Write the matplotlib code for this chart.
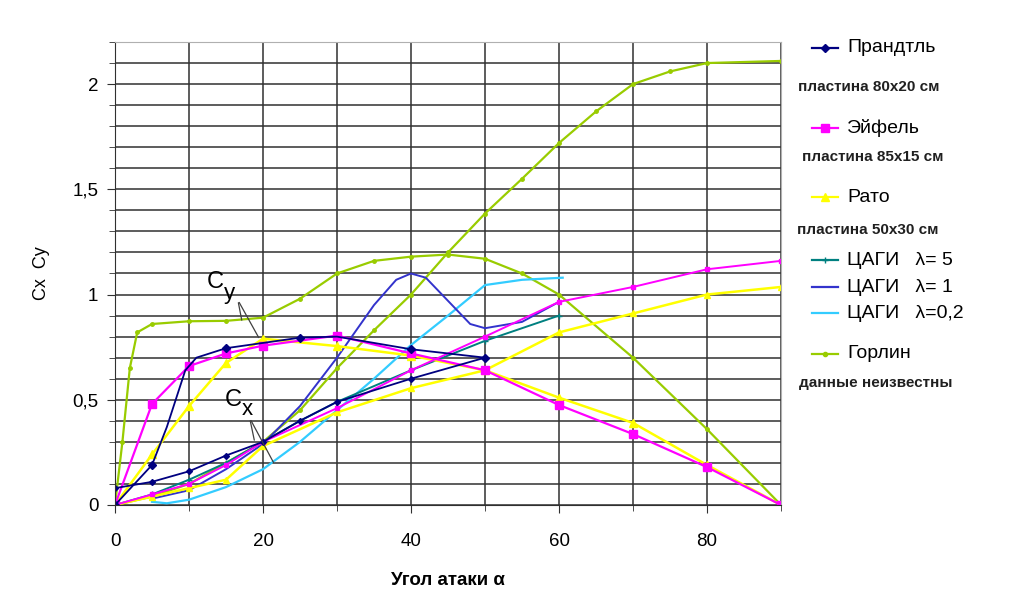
import matplotlib
matplotlib.use("Agg")
from matplotlib import pyplot as plt
from matplotlib.lines import Line2D
from matplotlib.ticker import MultipleLocator, FuncFormatter

plt.rcParams['font.family'] = ['Liberation Sans', 'DejaVu Sans']

# Прандтль
prandtl_cy_x = [0, 5, 7, 9.5, 11, 15, 20, 25, 30, 40, 50]
prandtl_cy_y = [0, 0.19, 0.37, 0.64, 0.70, 0.745, 0.77, 0.795, 0.80, 0.74, 0.70]
prandtl_cx_x = [0, 5, 10, 15, 20, 25, 30, 40, 50]
prandtl_cx_y = [0.08, 0.11, 0.16, 0.235, 0.30, 0.40, 0.49, 0.60, 0.70]

# Эйфель
eiffel_x = [0, 5, 10, 15, 20, 30, 40, 50, 60, 70, 80, 90]
eiffel_cy = [0, 0.48, 0.66, 0.72, 0.757, 0.805, 0.72, 0.64, 0.475, 0.337, 0.18, 0]
eiffel_cx = [0, 0.05, 0.10, 0.19, 0.30, 0.46, 0.64, 0.80, 0.965, 1.036, 1.12, 1.16]

# Рато
rato_x = [0, 5, 10, 15, 20, 30, 40, 50, 60, 70, 80, 90]
rato_cy = [0, 0.24, 0.47, 0.675, 0.79, 0.755, 0.71, 0.64, 0.51, 0.39, 0.19, 0]
rato_cx = [0, 0.04, 0.08, 0.12, 0.28, 0.44, 0.555, 0.64, 0.82, 0.91, 1.0, 1.036]

# ЦАГИ
cagi5_x = [0, 5, 10, 15, 20, 25, 30, 40, 50, 60]
cagi5_y = [0.0, 0.05, 0.12, 0.20, 0.30, 0.40, 0.49, 0.64, 0.78, 0.90]
cagi1_x = [5, 10, 15, 20, 25, 30, 35, 38, 40, 42, 45, 48, 50, 55, 60]
cagi1_y = [0.03, 0.07, 0.17, 0.29, 0.47, 0.70, 0.95, 1.07, 1.10, 1.08, 0.97, 0.86, 0.84, 0.87, 0.965]
cagi02_x = [5, 7, 10, 15, 20, 25, 30, 35, 40, 45, 50, 55, 60.5]
cagi02_y = [0.015, 0.008, 0.025, 0.085, 0.17, 0.30, 0.45, 0.60, 0.76, 0.90, 1.045, 1.07, 1.08]

# Горлин
gorlin_cy_x = [0, 1, 2, 3, 5, 10, 15, 20, 25, 30, 35, 40, 45, 50, 55, 60, 70, 80, 90]
gorlin_cy_y = [0, 0.30, 0.65, 0.82, 0.86, 0.873, 0.875, 0.89, 0.98, 1.10, 1.16, 1.18, 1.19, 1.17,
               1.10, 1.0, 0.70, 0.36, 0]
gorlin_cx_x = [0, 5, 10, 15, 20, 25, 30, 35, 40, 45, 50, 55, 60, 65, 70, 75, 80, 90]
gorlin_cx_y = [0, 0.04, 0.10, 0.20, 0.30, 0.45, 0.65, 0.83, 1.0, 1.2, 1.385, 1.55, 1.72, 1.87,
               2.0, 2.06, 2.10, 2.11]

c_prandtl = '#000080'
c_eiffel = '#FF00FF'
c_rato = '#FFFF00'
c_cagi5 = '#008080'
c_cagi1 = '#3333CC'
c_cagi02 = '#33CCFF'
c_gorlin = '#99CC00'

fig = plt.figure(figsize=(10.16, 6.15), dpi=100)
ax = fig.add_axes([0.1132, 0.1789, 0.6555, 0.7528])

ax.plot(gorlin_cy_x, gorlin_cy_y, color=c_gorlin, lw=1.6, marker='o', ms=2.5)
ax.plot(gorlin_cx_x, gorlin_cx_y, color=c_gorlin, lw=1.6, marker='o', ms=2.5)
ax.plot(cagi02_x, cagi02_y, color=c_cagi02, lw=1.6)
ax.plot(cagi1_x, cagi1_y, color=c_cagi1, lw=1.4)
ax.plot(cagi5_x, cagi5_y, color=c_cagi5, lw=1.4, marker='+', ms=4)
ax.plot(rato_x, rato_cy, color=c_rato, lw=1.8, marker='^', ms=6)
ax.plot(rato_x, rato_cx, color=c_rato, lw=1.8, marker='^', ms=4)
ax.plot(eiffel_x, eiffel_cy, color=c_eiffel, lw=1.6, marker='s', ms=6)
ax.plot(eiffel_x, eiffel_cx, color=c_eiffel, lw=1.4, marker='s', ms=3.5)
ax.plot(prandtl_cy_x, prandtl_cy_y, color=c_prandtl, lw=1.3, marker='D', ms=4,
        markevery=[0, 1, 5, 7, 9, 10])
ax.plot(prandtl_cx_x, prandtl_cx_y, color=c_prandtl, lw=1.3, marker='D', ms=3)

ax.set_xlim(0, 90)
ax.set_ylim(0, 2.2)
ax.xaxis.set_major_locator(MultipleLocator(20))
ax.xaxis.set_minor_locator(MultipleLocator(10))
ax.yaxis.set_major_locator(MultipleLocator(0.5))
ax.yaxis.set_minor_locator(MultipleLocator(0.1))
ax.yaxis.set_major_formatter(FuncFormatter(lambda v, p: ('%g' % v).replace('.', ',')))
ax.grid(True, which='both', color='#303030', lw=1.1)
ax.set_axisbelow(True)
ax.tick_params(which='both', direction='out', color='#303030', labelsize=13.5)
ax.tick_params(axis='x', pad=14)
ax.tick_params(axis='y', pad=6)
ax.tick_params(which='major', length=6)
ax.tick_params(which='minor', length=4)
for s in ['top', 'right']:
    ax.spines[s].set_color('#b0b0b0')
for s in ['left', 'bottom']:
    ax.spines[s].set_color('#303030')

ax.set_ylabel('Cx  Cy', fontsize=13, labelpad=16)
ax.set_xlabel('Угол атаки α', fontsize=13.5, fontweight='bold', labelpad=16)

# подписи Cy / Cx
ax.text(14.7, 1.06, 'C', fontsize=17, ha='right', va='center')
ax.text(14.75, 1.005, 'y', fontsize=16, ha='left', va='center')
for xe, ye in [(17.2, 0.865), (19.6, 0.784)]:
    ax.annotate('', xy=(xe, ye), xytext=(16.6, 0.974),
                arrowprops=dict(arrowstyle='-', color='#404040', lw=0.9))
ax.text(17.1, 0.50, 'C', fontsize=17, ha='right', va='center')
ax.text(17.15, 0.455, 'x', fontsize=16, ha='left', va='center')
for xe, ye in [(18.9, 0.295), (21.6, 0.19)]:
    ax.annotate('', xy=(xe, ye), xytext=(18.2, 0.413),
                arrowprops=dict(arrowstyle='-', color='#404040', lw=0.9))

# легенда справа
W, H = 1016.0, 615.0
entries = [
    (c_prandtl, 'D', 4.5, 48, 'Прандтль', 'пластина 80x20 см', 87, 798),
    (c_eiffel, 's', 5.5, 128, 'Эйфель', 'пластина 85х15 см', 157, 802),
    (c_rato, '^', 5.5, 197, 'Рато', 'пластина 50х30 см', 230, 797),
    (c_cagi5, '+', 4.5, 260, 'ЦАГИ   λ= 5', None, None, None),
    (c_cagi1, None, 0, 287, 'ЦАГИ   λ= 1', None, None, None),
    (c_cagi02, None, 0, 313, 'ЦАГИ   λ=0,2', None, None, None),
    (c_gorlin, 'o', 3, 354, 'Горлин', 'данные неизвестны', 383, 799),
]
for col, mk, ms, py, label, sub, sy, sx in entries:
    x0, x1 = 812, 838
    y = 1 - py / H
    fig.add_artist(Line2D([x0 / W, x1 / W], [y, y], color=col, lw=1.6,
                          transform=fig.transFigure))
    if mk:
        fig.add_artist(Line2D([(x0 + x1) / 2 / W], [y], color=col, marker=mk, ms=ms,
                              lw=0, transform=fig.transFigure))
    fig.text((x1 + 9) / W, y, label, fontsize=14, ha='left', va='center')
    if sub:
        fig.text(sx / W, 1 - sy / H, sub, fontsize=11, fontweight='bold',
                 color='#202020', ha='left', va='center')

fig.savefig('out.png', dpi=100)
